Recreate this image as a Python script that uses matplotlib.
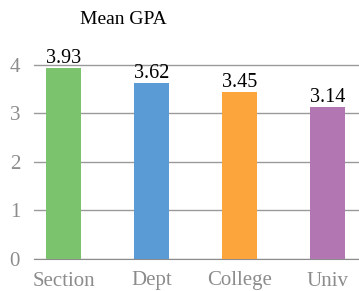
import matplotlib.pyplot as plt

# data
levels = ["Section", "Dept", "College", "Univ"]
gpa = [3.93, 3.62, 3.45, 3.14]
barColours = ["#7bc46d", "#5b9bd5", "#fba53c", "#b276b2"]

plt.rcParams['font.family'] = ['Liberation Serif', 'DejaVu Serif']

fig = plt.figure(figsize=(3.59, 2.91), dpi=100)
ax = fig.add_axes([34/359, 32/291, 325/359, 216/291])

bars = ax.bar(range(len(levels)), gpa, width=0.4, color=barColours, zorder=3)
for b, v in zip(bars, gpa):
    ax.text(b.get_x() + b.get_width()/2, v, "%.2f" % v, ha='center', va='bottom',
            fontsize=14.5, color='black')

ax.set_xlim(-0.34, 3.36)
ax.set_ylim(0, 4.45)
ax.set_yticks([0, 1, 2, 3, 4])
ax.set_xticks(range(len(levels)))
ax.set_xticklabels(levels)
ax.yaxis.grid(True, color='#9a9a9a', linewidth=1, zorder=0)

for s in ['top', 'right', 'left']:
    ax.spines[s].set_visible(False)
ax.spines['bottom'].set_color('#8c8c8c')
ax.tick_params(axis='both', length=0, labelsize=15, colors='#8c8c8c')
ax.tick_params(axis='x', pad=9)
ax.tick_params(axis='y', pad=10)

fig.text(123/359, 1 - 20/291, "Mean GPA", ha='center', va='center', fontsize=14)

fig.savefig("out.png", dpi=100)
